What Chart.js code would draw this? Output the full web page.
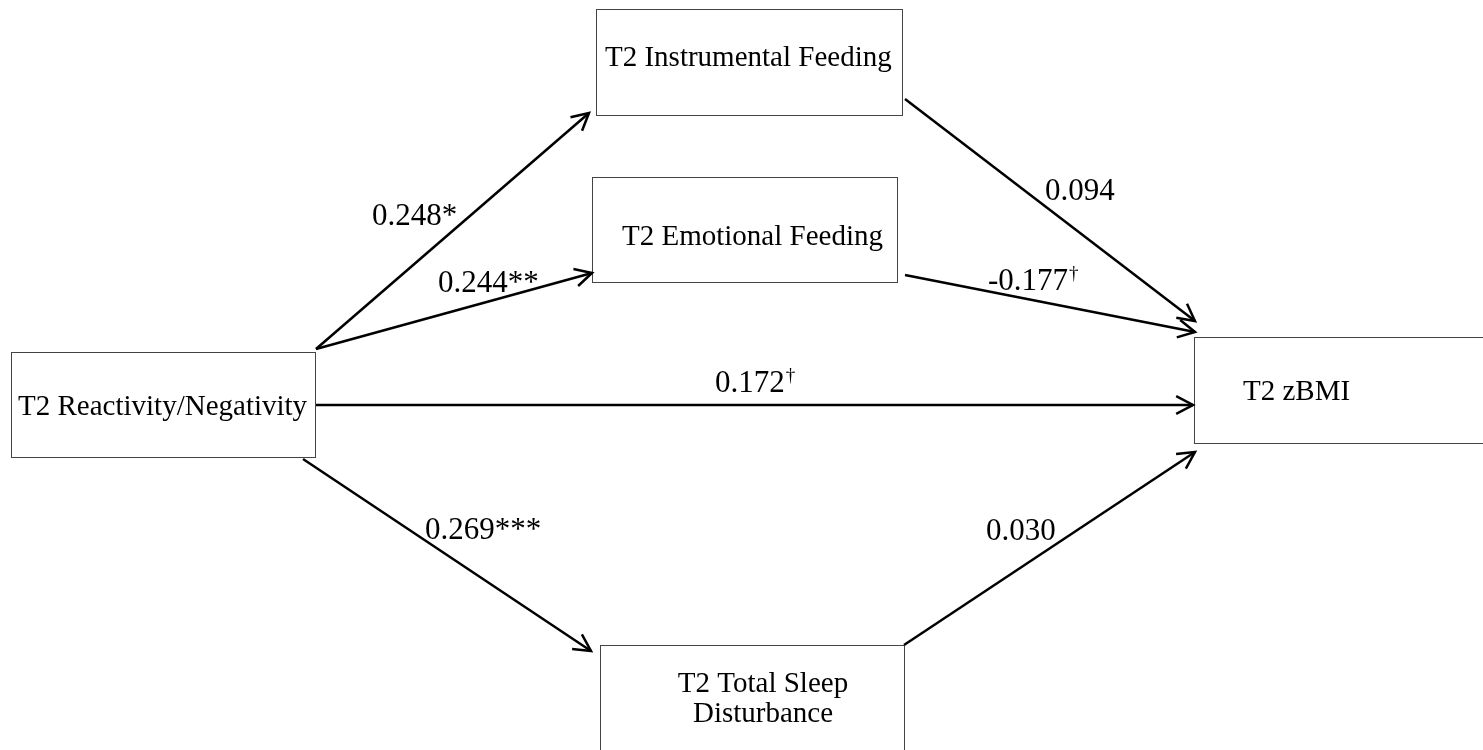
<!DOCTYPE html>
<html>
<head>
<meta charset="utf-8">
<script src="https://cdn.jsdelivr.net/npm/chart.js@4"></script>
<style>
  body { margin: 0; background: #fff; }
  canvas { display: block; }
</style>
</head>
<body>
<canvas id="pathChart" width="1483" height="750"></canvas>
<script>
// model: variables and standardized path coefficients
const nodeNames = ['T2 Reactivity/Negativity', 'T2 Instrumental Feeding', 'T2 Emotional Feeding', 'T2 zBMI', 'T2 Total Sleep Disturbance'];
const pathFrom = [0, 0, 0, 0, 1, 2, 4];
const pathTo   = [1, 2, 3, 4, 3, 3, 3];
const pathCoef = ['0.248', '0.244', '0.172', '0.269', '0.094', '-0.177', '0.030'];
const pathSig  = ['*', '**', '\u2020', '***', '', '\u2020', ''];

// layout (pixels in the 1483x750 frame)
const boxes = [
  { x: 11,   y: 352, w: 304, h: 105, tx: 18,  ty: 415, align: 'left' },
  { x: 596,  y: 9,   w: 306, h: 106, tx: 605, ty: 66,  align: 'left' },
  { x: 592,  y: 177, w: 305, h: 105, tx: 622, ty: 245, align: 'left' },
  { x: 1194, y: 337, w: 310, h: 106, tx: 1243, ty: 400, align: 'left' },
  { x: 600,  y: 645, w: 304, h: 130, tx: 763, ty: 692, align: 'center', breakAfter: 3, lh: 30 }
];
const arrowEnds = [
  [316, 349, 589, 113],
  [316, 349, 592, 273],
  [316, 405, 1193, 405],
  [303, 459, 591, 651],
  [905, 99, 1195, 321],
  [905, 275, 1195, 332],
  [904, 645, 1195, 452]
];
const labelPos = [[372, 225], [438, 292], [715, 392], [425, 539], [1045, 200], [988, 290], [986, 540]];

const boxFont = '29px "Liberation Serif", "Times New Roman", serif';
const labelFont = '31px "Liberation Serif", "Times New Roman", serif';
const supFont = '19px "Liberation Serif", "Times New Roman", serif';

const datasets = pathCoef.map((c, i) => ({
  label: nodeNames[pathFrom[i]] + ' -> ' + nodeNames[pathTo[i]],
  data: [{ x: arrowEnds[i][0], y: arrowEnds[i][1] }, { x: arrowEnds[i][2], y: arrowEnds[i][3] }],
  showLine: true,
  borderColor: '#000',
  borderWidth: 2.5,
  pointRadius: 0,
  fill: false
}));

const diagramPlugin = {
  id: 'diagram',
  beforeDatasetsDraw(chart) {
    const ctx = chart.ctx, xs = chart.scales.x, ys = chart.scales.y;
    ctx.save();
    boxes.forEach((b, i) => {
      const x0 = xs.getPixelForValue(b.x), y0 = ys.getPixelForValue(b.y);
      const x1 = xs.getPixelForValue(b.x + b.w), y1 = ys.getPixelForValue(b.y + b.h);
      ctx.strokeStyle = '#444';
      ctx.lineWidth = 1;
      ctx.strokeRect(Math.round(x0) + 0.5, Math.round(y0) + 0.5, Math.round(x1 - x0), Math.round(y1 - y0));
      ctx.fillStyle = '#000';
      ctx.font = boxFont;
      ctx.textAlign = b.align;
      ctx.textBaseline = 'alphabetic';
      let lines = [nodeNames[i]];
      if (b.breakAfter) {
        const w = nodeNames[i].split(' ');
        lines = [w.slice(0, b.breakAfter).join(' '), w.slice(b.breakAfter).join(' ')];
      }
      lines.forEach((t, k) => {
        ctx.fillText(t, xs.getPixelForValue(b.tx), ys.getPixelForValue(b.ty + k * (b.lh || 0)));
      });
    });
    ctx.restore();
  },
  afterDatasetsDraw(chart) {
    const ctx = chart.ctx, xs = chart.scales.x, ys = chart.scales.y;
    ctx.save();
    // arrow heads
    chart.data.datasets.forEach(ds => {
      const p0 = ds.data[0], p1 = ds.data[1];
      const ax = xs.getPixelForValue(p0.x), ay = ys.getPixelForValue(p0.y);
      const bx = xs.getPixelForValue(p1.x), by = ys.getPixelForValue(p1.y);
      const ang = Math.atan2(by - ay, bx - ax);
      const len = 19, spread = Math.PI / 6.5;
      ctx.beginPath();
      ctx.moveTo(bx - len * Math.cos(ang - spread), by - len * Math.sin(ang - spread));
      ctx.lineTo(bx, by);
      ctx.lineTo(bx - len * Math.cos(ang + spread), by - len * Math.sin(ang + spread));
      ctx.strokeStyle = '#000';
      ctx.lineWidth = 2.5;
      ctx.lineJoin = 'miter';
      ctx.stroke();
    });
    // coefficient labels
    ctx.fillStyle = '#000';
    ctx.textAlign = 'left';
    ctx.textBaseline = 'alphabetic';
    pathCoef.forEach((c, i) => {
      const x = xs.getPixelForValue(labelPos[i][0]), y = ys.getPixelForValue(labelPos[i][1]);
      const sig = pathSig[i];
      if (sig === '\u2020') {
        ctx.font = labelFont;
        ctx.fillText(c, x, y);
        const w = ctx.measureText(c).width;
        ctx.font = supFont;
        ctx.fillText(sig, x + w + 1, y - 11);
      } else {
        ctx.font = labelFont;
        ctx.fillText(c + sig, x, y);
      }
    });
    ctx.restore();
  }
};

new Chart(document.getElementById('pathChart'), {
  type: 'scatter',
  data: { datasets: datasets },
  options: {
    responsive: false,
    animation: false,
    layout: { padding: 0 },
    plugins: { legend: { display: false }, tooltip: { enabled: false } },
    scales: {
      x: { type: 'linear', min: 0, max: 1483, display: false },
      y: { type: 'linear', min: 0, max: 750, reverse: true, display: false }
    }
  },
  plugins: [diagramPlugin]
});
</script>
</body>
</html>
